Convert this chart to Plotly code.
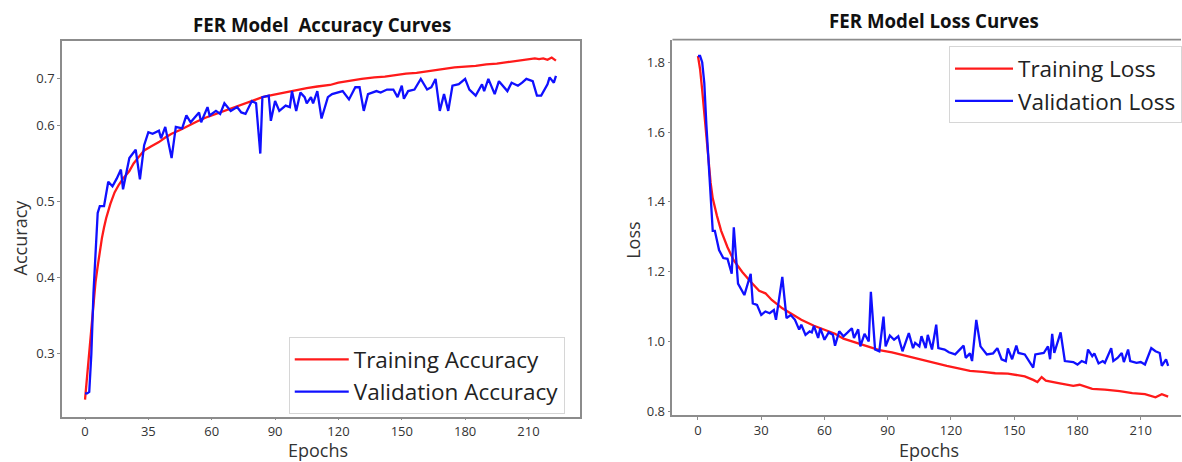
import plotly.graph_objects as go

# ---------------- data ----------------
train_acc_epochs = [0, 1, 2, 3, 4, 5, 6, 7, 8, 9, 10, 12, 14, 16, 18, 21, 23, 25, 28, 31, 35, 38, 41, 45, 49,
                    53, 57, 61, 65, 69, 74, 79, 84, 89, 94, 100, 105, 110, 116, 120, 126, 131, 137, 142, 147,
                    152, 157, 162, 166, 170, 175, 180, 185, 190, 195, 200, 205, 210, 213, 215, 217, 219, 220, 221, 223]
train_acc = [0.240, 0.270, 0.300, 0.335, 0.370, 0.395, 0.415, 0.435, 0.452, 0.466, 0.478, 0.497, 0.512, 0.522,
             0.530, 0.540, 0.550, 0.557, 0.567, 0.572, 0.578, 0.584, 0.589, 0.594, 0.600, 0.605, 0.610, 0.614,
             0.618, 0.623, 0.627, 0.632, 0.637, 0.640, 0.643, 0.646, 0.649, 0.651, 0.653, 0.656, 0.659, 0.661,
             0.663, 0.664, 0.666, 0.668, 0.669, 0.671, 0.672, 0.674, 0.676, 0.677, 0.678, 0.680, 0.681, 0.683,
             0.685, 0.687, 0.688, 0.687, 0.688, 0.686, 0.688, 0.689, 0.685]

val_acc_epochs = [0, 1, 2, 3, 4, 5, 6, 7, 9, 11, 13, 15, 17, 18, 21, 24, 26, 28, 30, 32, 35, 36, 38, 41, 43, 46,
                  48, 50, 54, 55, 58, 59, 62, 64, 66, 69, 72, 74, 76, 79, 81, 83, 84, 87, 88, 90, 92, 95, 97, 98,
                  100, 102, 104, 105, 107, 108, 110, 112, 115, 117, 122, 125, 128, 130, 132, 134, 138, 140, 143,
                  146, 148, 150, 151, 153, 156, 159, 162, 164, 166, 168, 170, 172, 174, 177, 180, 182, 185, 188,
                  189, 191, 194, 196, 198, 200, 202, 205, 207, 209, 212, 214, 216, 219, 220, 222, 223]
val_acc = [0.248, 0.248, 0.250, 0.300, 0.380, 0.440, 0.485, 0.494, 0.494, 0.526, 0.520, 0.530, 0.542, 0.516,
           0.557, 0.568, 0.529, 0.574, 0.591, 0.589, 0.593, 0.583, 0.598, 0.557, 0.598, 0.596, 0.613, 0.604,
           0.617, 0.604, 0.624, 0.613, 0.619, 0.615, 0.629, 0.619, 0.624, 0.617, 0.615, 0.632, 0.629, 0.563,
           0.637, 0.639, 0.606, 0.632, 0.619, 0.626, 0.624, 0.645, 0.619, 0.643, 0.637, 0.629, 0.637, 0.629,
           0.645, 0.609, 0.637, 0.641, 0.645, 0.634, 0.650, 0.650, 0.619, 0.641, 0.645, 0.643, 0.647, 0.647,
           0.637, 0.652, 0.635, 0.645, 0.647, 0.661, 0.647, 0.650, 0.661, 0.619, 0.641, 0.619, 0.652, 0.654,
           0.661, 0.647, 0.639, 0.654, 0.645, 0.661, 0.641, 0.658, 0.652, 0.645, 0.656, 0.652, 0.656, 0.661,
           0.658, 0.639, 0.639, 0.654, 0.663, 0.656, 0.665]

train_loss_epochs = [0, 1, 2, 3, 4, 5, 6, 7, 8, 9, 11, 14, 17, 21, 25, 29, 32, 35, 40, 45, 49, 55, 60, 65, 69,
                     75, 80, 86, 92, 99, 105, 111, 118, 123, 129, 135, 141, 147, 151, 155, 159, 161, 163, 165,
                     171, 178, 181, 187, 193, 200, 206, 212, 217, 220, 223]
train_loss = [1.818, 1.780, 1.720, 1.650, 1.575, 1.510, 1.455, 1.410, 1.380, 1.360, 1.317, 1.270, 1.232, 1.199,
              1.171, 1.145, 1.138, 1.119, 1.095, 1.076, 1.062, 1.045, 1.033, 1.022, 1.008, 0.996, 0.986, 0.975,
              0.969, 0.958, 0.949, 0.939, 0.930, 0.924, 0.916, 0.913, 0.909, 0.908, 0.904, 0.900, 0.890, 0.884,
              0.898, 0.888, 0.881, 0.873, 0.876, 0.864, 0.862, 0.858, 0.852, 0.849, 0.840, 0.849, 0.842]

val_loss_epochs = [0, 1, 2, 3, 4, 5, 6, 7, 8, 10, 12, 14, 16, 17, 19, 22, 25, 26, 28, 30, 32, 34, 36, 37, 40,
                   42, 44, 46, 48, 49, 51, 53, 54, 55, 57, 58, 60, 62, 64, 65, 67, 69, 71, 73, 74, 76, 77, 79,
                   81, 82, 84, 86, 88, 89, 91, 93, 95, 97, 100, 102, 103, 105, 106, 108, 109, 111, 113, 114, 117,
                   119, 122, 124, 126, 127, 129, 130, 132, 134, 137, 140, 142, 144, 146, 147, 149, 151, 152, 155,
                   157, 159, 160, 163, 164, 166, 167, 168, 169, 172, 174, 178, 180, 182, 184, 185, 187, 188, 190,
                   192, 193, 196, 197, 199, 201, 202, 204, 205, 208, 210, 212, 215, 217, 219, 220, 222, 223]
val_loss = [1.818, 1.818, 1.800, 1.740, 1.620, 1.510, 1.390, 1.317, 1.317, 1.262, 1.239, 1.237, 1.194, 1.327,
            1.166, 1.133, 1.194, 1.109, 1.105, 1.076, 1.086, 1.081, 1.090, 1.062, 1.185, 1.067, 1.076, 1.062,
            1.034, 1.048, 1.019, 1.029, 1.026, 1.045, 1.010, 1.038, 1.005, 1.026, 1.019, 0.988, 1.029, 1.015,
            1.026, 1.038, 1.010, 1.035, 0.986, 1.022, 1.000, 1.142, 0.977, 0.972, 1.071, 0.986, 1.017, 1.005,
            1.015, 0.972, 1.024, 0.981, 0.996, 0.986, 1.015, 0.981, 1.019, 0.977, 1.048, 0.981, 0.977, 0.969,
            0.963, 0.977, 0.988, 0.953, 0.966, 0.944, 1.062, 0.986, 0.963, 0.966, 0.981, 0.949, 0.944, 0.980,
            0.949, 0.988, 0.967, 0.963, 0.944, 0.925, 0.963, 0.967, 0.967, 0.986, 0.949, 1.022, 0.967, 1.026,
            0.944, 0.941, 0.934, 0.944, 0.939, 0.977, 0.958, 0.966, 0.937, 0.944, 0.939, 0.981, 0.944, 0.953,
            0.967, 0.941, 0.977, 0.944, 0.939, 0.941, 0.934, 0.981, 0.972, 0.967, 0.930, 0.949, 0.930]

epoch_ticks = [0, 30, 60, 90, 120, 150, 180, 210]
acc_epoch_tick_labels = ["0", "35", "60", "90", "120", "150", "180", "210"]
loss_epoch_tick_labels = ["0", "30", "60", "90", "120", "150", "180", "210"]
acc_tick_labels = ["0.3", "0.4", "0.5", "0.6", "0.7"]
loss_ticks = [0.8, 1.0, 1.2, 1.4, 1.6, 1.8]
loss_tick_labels = ["0.8", "1.0", "1.2", "1.4", "1.6", "1.8"]

# ---------------- figure ----------------
RED = "#ff1a1a"
BLUE = "#1010ff"
FRAME = "#8c8c8c"
TXT = "#333333"
FONT = "Open Sans"

fig = go.Figure()
fig.add_trace(go.Scatter(x=train_acc_epochs, y=train_acc, mode="lines", name="Training Accuracy",
                         line=dict(color=RED, width=2.3), xaxis="x", yaxis="y", legend="legend",
                         legendgroup="a1"))
fig.add_trace(go.Scatter(x=val_acc_epochs, y=val_acc, mode="lines", name="Validation Accuracy",
                         line=dict(color=BLUE, width=2.3), xaxis="x", yaxis="y", legend="legend",
                         legendgroup="a2"))
fig.add_trace(go.Scatter(x=train_loss_epochs, y=train_loss, mode="lines", name="Training Loss",
                         line=dict(color=RED, width=2.3), xaxis="x2", yaxis="y2", legend="legend2",
                         legendgroup="l1"))
fig.add_trace(go.Scatter(x=val_loss_epochs, y=val_loss, mode="lines", name="Validation Loss",
                         line=dict(color=BLUE, width=2.3), xaxis="x2", yaxis="y2", legend="legend2",
                         legendgroup="l2"))

axis_common = dict(showgrid=False, zeroline=False, showline=True, linecolor=FRAME, linewidth=1.6,
                   ticks="outside", tickcolor=FRAME, tickwidth=1,
                   tickfont=dict(family=FONT, size=13, color=TXT))

# accuracy axis: label positions as drawn in the original
acc_tick_pos = [0.3, 0.4, 0.5, 0.6, 0.662]

legend_style = dict(xanchor="left", yanchor="top", bgcolor="white", bordercolor="#d6d6d6", borderwidth=1,
                    font=dict(family=FONT, size=22.5, color="#222222"), tracegroupgap=0)

fig.update_layout(
    width=1182, height=462,
    margin=dict(l=0, r=0, t=0, b=0),
    paper_bgcolor="white", plot_bgcolor="white",
    font=dict(family=FONT, color=TXT),
    xaxis=dict(domain=[0.0525, 0.4913], range=[-10.9, 234.5], anchor="y", mirror=True, ticklen=1,
               tickvals=epoch_ticks, ticktext=acc_epoch_tick_labels, **axis_common),
    yaxis=dict(domain=[0.0872, 0.9097], range=[0.2169, 0.7104], anchor="x", mirror=True, ticklen=3,
               tickvals=acc_tick_pos, ticktext=acc_tick_labels, **axis_common),
    xaxis2=dict(domain=[0.5694, 1.0], range=[-12.1, 229.1], anchor="y2", mirror=False, ticklen=3,
                tickvals=epoch_ticks, ticktext=loss_epoch_tick_labels, **axis_common),
    yaxis2=dict(domain=[0.0924, 0.9134], range=[0.790, 1.865], anchor="x2", mirror=False, ticklen=3,
                tickvals=loss_ticks, ticktext=loss_tick_labels, **axis_common),
    legend=dict(x=289 / 1182, y=1 - 341 / 462, itemwidth=54, **legend_style),
    legend2=dict(x=950 / 1182, y=1 - 47 / 462, itemwidth=58, **legend_style),
    shapes=[dict(type="line", xref="paper", yref="paper", x0=0.5694, x1=1.0, y0=0.9134, y1=0.9134,
                 line=dict(color=FRAME, width=1.6))],
    showlegend=True,
)

ann = [
    dict(text="<b>FER Model\u00a0 Accuracy Curves</b>", x=322, y=25, size=18.7),
    dict(text="<b>FER Model Loss Curves</b>", x=935, y=21, size=18.7),
    dict(text="Epochs", x=318, y=455, size=18),
    dict(text="Epochs", x=930, y=455, size=18),
]
for a in ann:
    fig.add_annotation(text=a["text"], x=a["x"] / 1182, y=1 - a["y"] / 462, xref="paper", yref="paper",
                       showarrow=False, xanchor="center", yanchor="middle", borderpad=0,
                       font=dict(family=FONT, size=a["size"], color="#111111" if "<b>" in a["text"] else TXT))
fig.add_annotation(text="Accuracy", x=20 / 1182, y=1 - 240 / 462, xref="paper", yref="paper", showarrow=False,
                   textangle=-90, xanchor="center", yanchor="middle", font=dict(family=FONT, size=18, color=TXT))
fig.add_annotation(text="Loss", x=634 / 1182, y=1 - 243 / 462, xref="paper", yref="paper", showarrow=False,
                   textangle=-90, xanchor="center", yanchor="middle", font=dict(family=FONT, size=18, color=TXT))

fig.write_html("out.html")
